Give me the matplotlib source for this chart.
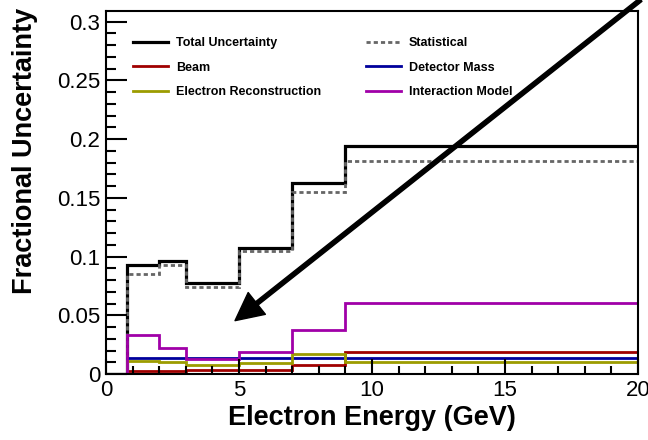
import matplotlib
matplotlib.use("Agg")
import matplotlib.pyplot as plt
from matplotlib.ticker import MultipleLocator, FuncFormatter
from matplotlib.lines import Line2D

# Bin edges in electron energy (GeV)
bin_edges = [0.0, 0.8, 2.0, 3.0, 5.0, 7.0, 9.0, 20.0]

# Fractional uncertainty per bin
total_unc = [0.0, 0.0928, 0.0963, 0.0772, 0.1070, 0.1630, 0.1937]
statistical = [0.0, 0.0852, 0.0928, 0.0741, 0.1048, 0.1553, 0.1817]
beam = [0.0, 0.0028, 0.0028, 0.0030, 0.0034, 0.0077, 0.0190]
detector_mass = [0.0, 0.0139, 0.0139, 0.0139, 0.0139, 0.0139, 0.0139]
electron_reco = [0.0, 0.0110, 0.0100, 0.0077, 0.0090, 0.0168, 0.0105]
interaction_model = [0.0, 0.0332, 0.0219, 0.0130, 0.0190, 0.0375, 0.0607]

# Arrow: tail and head in data coordinates
arrow_tail = (20.1, 0.3186)
arrow_head = (4.85, 0.0454)

plt.rcParams["font.family"] = ["Liberation Sans", "DejaVu Sans"]

fig = plt.figure(figsize=(6.48, 4.40), dpi=100)
ax = fig.add_axes([106 / 648, 66 / 440, 532 / 648, 363 / 440])

ax.stairs(total_unc, bin_edges, baseline=None, color="black", lw=2.3, label="Total Uncertainty")
ax.stairs(statistical, bin_edges, baseline=None, color="#666666", lw=2.0,
          linestyle=(0, (1.5, 1.1)), label="Statistical")
ax.stairs(beam, bin_edges, baseline=None, color="#a00000", lw=2.0, label="Beam")
ax.stairs(detector_mass, bin_edges, baseline=None, color="#00009c", lw=2.0, label="Detector Mass")
ax.stairs(electron_reco, bin_edges, baseline=None, color="#9c9c00", lw=2.0, label="Electron Reconstruction")
ax.stairs(interaction_model, bin_edges, baseline=None, color="#a000a8", lw=2.0, label="Interaction Model")

ax.set_xlim(0, 20)
ax.set_ylim(0, 0.309)

ax.xaxis.set_major_locator(MultipleLocator(5))
ax.xaxis.set_minor_locator(MultipleLocator(1))
ax.yaxis.set_major_locator(MultipleLocator(0.05))
ax.yaxis.set_minor_locator(MultipleLocator(0.01))
ax.yaxis.set_major_formatter(FuncFormatter(lambda v, p: "0" if abs(v) < 1e-9 else f"{v:g}"))

ax.tick_params(axis="both", which="both", direction="in", labelsize=16, width=1.5,
               top=False, right=False)
ax.tick_params(axis="x", which="major", length=11, pad=4)
ax.tick_params(axis="x", which="minor", length=6)
ax.tick_params(axis="y", which="major", length=15, pad=4)
ax.tick_params(axis="y", which="minor", length=7)
for sp in ax.spines.values():
    sp.set_linewidth(1.5)

ax.set_xlabel("Electron Energy (GeV)", fontsize=19.5, fontweight="bold", labelpad=3)
ax.set_ylabel("Fractional Uncertainty", fontsize=19.5, fontweight="bold",
              ha="right", va="center")
ax.yaxis.set_label_coords(-0.153, 1.008)

legend_order = ["Total Uncertainty", "Beam", "Electron Reconstruction",
                "Statistical", "Detector Mass", "Interaction Model"]
h, l = ax.get_legend_handles_labels()
proxies = {}
for patch, lab in zip(h, l):
    proxies[lab] = Line2D([], [], color=patch.get_edgecolor(), lw=patch.get_linewidth(),
                          linestyle=patch.get_linestyle())
leg = ax.legend([proxies[k] for k in legend_order], legend_order, ncol=2,
                loc="upper left", bbox_to_anchor=(0.051, 0.927), frameon=False,
                prop={"weight": "bold", "size": 9}, handlelength=2.8,
                handletextpad=0.65, columnspacing=3.55, labelspacing=0.98,
                borderpad=0, borderaxespad=0)

ax.annotate("", xy=arrow_head, xytext=arrow_tail, xycoords="data",
            arrowprops=dict(facecolor="black", edgecolor="black", width=3,
                            headwidth=20, headlength=20, shrink=0),
            annotation_clip=False)

fig.savefig("out.png", dpi=100)
